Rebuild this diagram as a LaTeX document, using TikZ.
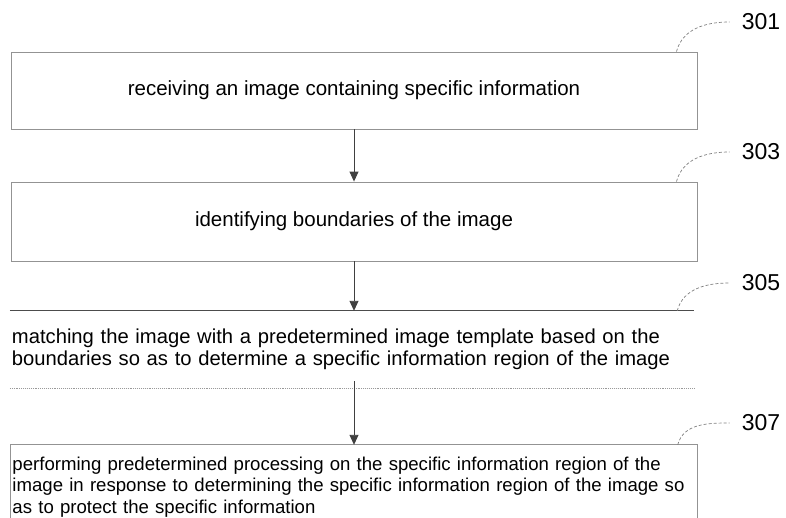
\documentclass[tikz,border=0pt]{standalone}
\usepackage{fontspec}
\setmainfont{Liberation Sans}
\usetikzlibrary{arrows.meta}

\tikzset{
  stepbox/.style={draw=gray!85, line width=0.9pt, minimum width=686pt, inner sep=0pt},
  flow/.style={draw=black!75, line width=0.9pt, -{Triangle[length=10pt,width=9pt]}},
  leader/.style={draw=gray, line width=0.7pt, densely dashed},
  refnum/.style={font=\fontsize{23}{25}\selectfont, inner ysep=3pt, inner xsep=12pt}
}

\begin{document}
\begin{tikzpicture}[x=1pt, y=-1pt]
\useasboundingbox (0,0) rectangle (786,517);

% step boxes
\node[stepbox, minimum height=77pt, font=\fontsize{20.5}{24}\selectfont] (box1) at (354,90.5)
  {receiving an image containing specific information};
\node[stepbox, minimum height=79pt, font=\fontsize{20.5}{24}\selectfont] (box2) at (354,221.5)
  {identifying boundaries of the image};
\node[inner sep=0pt, minimum width=684pt, minimum height=77pt, text width=680pt, align=left,
  font=\fontsize{20.2}{22.5}\selectfont] (box3) at (352,349.5)
  {matching the image with a predetermined image template based on the\\
   boundaries so as to determine a specific information region of the image};
\node[inner sep=0pt, minimum width=687pt, minimum height=84pt, text width=683pt, align=left,
  font=\fontsize{18.6}{21.5}\selectfont] (box4) at (354,487)
  {performing predetermined processing on the specific information region of the\\
   image in response to determining the specific information region of the image so\\
   as to protect the specific information};

% open edges of the last two steps
\draw[black!70, line width=0.9pt] (box3.north west) -- (box3.north east);
\draw[gray!80, line width=0.9pt, densely dotted] (box3.south west) -- (box3.south east);
\draw[gray!85, line width=0.9pt] (box4.south west) -- (box4.north west) -- (box4.north east) -- (box4.south east);

% arrows
\draw[flow] (box1.south) -- (box2.north);
\draw[flow] (box2.south) -- (box3.north -| box2.south);
\draw[flow] ([yshift=7]box3.south -| box2.south) -- (box4.north -| box2.south);

% reference numerals
\node[refnum] (n301) at (761,22) {301};
\node[refnum] (n303) at (761,152) {303};
\node[refnum] (n305) at (761,283) {305};
\node[refnum] (n307) at (761,423) {307};

\draw[leader] ([xshift=-21]box1.north east) to[out=75, in=180] (n301.west);
\draw[leader] ([xshift=-21]box2.north east) to[out=75, in=180] (n303.west);
\draw[leader] ([xshift=-17]box3.north east) to[out=75, in=180] (n305.west);
\draw[leader] ([xshift=-20]box4.north east) to[out=75, in=180] (n307.west);

\end{tikzpicture}
\end{document}
